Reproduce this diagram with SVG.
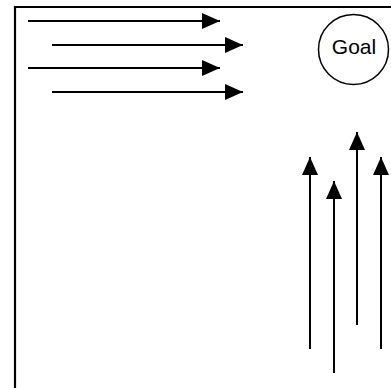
<svg xmlns="http://www.w3.org/2000/svg" width="391" height="388" viewBox="0 0 391 388">
<style>
.frame{fill:none;stroke:#000;stroke-width:2.2}
.conn line{stroke:#000;stroke-width:2}
.goal circle{fill:#fff;stroke:#000;stroke-width:1.5}
.goal text{font-family:"Liberation Sans",Arial,sans-serif;font-size:21px;fill:#000;text-anchor:middle}
</style>
<defs>
<marker id="ah" viewBox="0 0 18 16" refX="18" refY="8" markerWidth="18" markerHeight="16" markerUnits="userSpaceOnUse" orient="auto">
<path d="M0,0 L18,8 L0,16 Z" fill="#000"/>
</marker>
</defs>
<rect width="391" height="388" fill="#fff"/>
<path class="frame" d="M15,388 V7 H391"/>
<g id="goal" class="goal">
<circle cx="353.5" cy="49.5" r="35"/>
<text x="354" y="54">Goal</text>
</g>
<g id="connectors" class="conn">
<line x1="28" y1="21" x2="220" y2="21" marker-end="url(#ah)"/>
<line x1="52" y1="45" x2="243" y2="45" marker-end="url(#ah)"/>
<line x1="28" y1="68" x2="220" y2="68" marker-end="url(#ah)"/>
<line x1="52" y1="92" x2="243" y2="92" marker-end="url(#ah)"/>
<line x1="310" y1="349" x2="310" y2="157" marker-end="url(#ah)"/>
<line x1="334" y1="373" x2="334" y2="181" marker-end="url(#ah)"/>
<line x1="357" y1="325" x2="357" y2="132" marker-end="url(#ah)"/>
<line x1="381" y1="349" x2="381" y2="157" marker-end="url(#ah)"/>
</g>
</svg>
